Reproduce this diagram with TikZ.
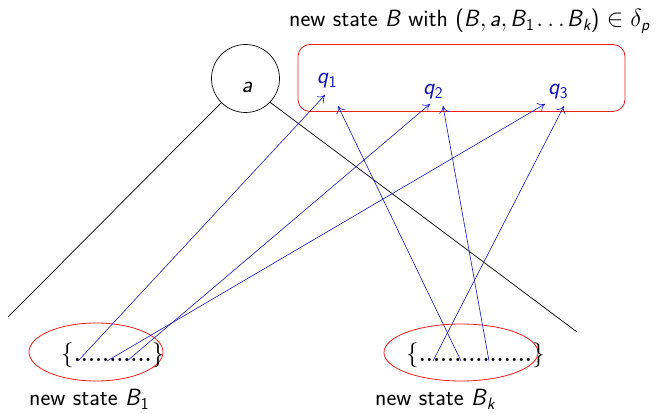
\documentclass[tikz,border=0pt]{standalone}
\usepackage{amsmath}
\usetikzlibrary{arrows.meta,shapes.geometric}
\definecolor{qblue}{RGB}{20,20,190}
\definecolor{boxred}{RGB}{240,30,30}
\newcommand{\sv}[1]{\textsf{\itshape #1}}
\newcommand{\dd}{{\fontsize{21}{24}\selectfont\textbf{.}}\kern0.5pt}
\newcommand{\dl}{{\fontsize{21}{24}\selectfont\textbf{.}}}
\begin{document}
\begin{tikzpicture}[x=1pt,y=-1pt,
  font=\fontsize{23.5}{28}\selectfont\sffamily,
  plain/.style={inner sep=0pt},
  qlab/.style={plain,text=qblue,anchor=base},
  blk/.style={draw=black,line width=0.7pt},
  redline/.style={draw=boxred,line width=0.8pt},
  barrow/.style={draw=qblue,line width=0.6pt,-{To[length=7pt,width=10pt]}}]
\useasboundingbox (0,0) rectangle (670,414);
% title
\node[plain,anchor=base west] (title) at (289,27)
  {new state \sv{B} with (\sv{B}$,$\kern3pt\sv{a}$,$\kern3pt\sv{B}$_{\textsf{1}}$\kern2pt$\ldots$\kern2pt\sv{B}$_{\sv{k}}$) $\in\delta_{\sv{p}}$};
% circle a
\node[circle,draw,line width=0.7pt,minimum size=68pt,plain] (circ) at (245.5,78.5) {};
\node[plain,anchor=base] (alab) at (247,93) {\sv{a}};
\coordinate (lend) at (8,317);
\coordinate (rend) at (577,332);
\draw[blk] (circ.-135) -- (lend);
\draw[blk] (circ.-44) -- (rend);
% red rounded box
\node[redline,draw,rounded corners=12pt,minimum width=327pt,minimum height=67pt,plain] (box) at (461.5,78) {};
\node[qlab] (q1) at (327,84) {\sv{q}$_{\textsf{1}}$};
\node[qlab] (q2) at (433,95) {\sv{q}$_{\textsf{2}}$};
\node[qlab] (q3) at (558,95) {\sv{q}$_{\textsf{3}}$};
% ellipses
\node[ellipse,redline,draw,minimum width=134pt,minimum height=58pt,plain] (e1) at (96,352) {};
\node[ellipse,redline,draw,minimum width=154pt,minimum height=57pt,plain] (ek) at (461,352.5) {};
\node[plain,anchor=base west] (set1) at (61,362) {\rmfamily$\{$\kern0.5pt\dd\dd\dd\dd\dd\dd\dd\dd\dd\dd\dl\kern0.5pt$\}$};
\node[plain,anchor=base west] (setk) at (406,362) {\rmfamily$\{$\kern0.5pt\dd\dd\dd\dd\dd\dd\dd\dd\dd\dd\dd\dd\dd\dd\dd\dl\kern0.5pt$\}$};
\node[plain,anchor=base west] (lb1) at (29,406) {new state \sv{B}$_{\textsf{1}}$};
\node[plain,anchor=base west] (lbk) at (375,406) {new state \sv{B}$_{\sv{k}}$};
% arrow start and tip points
\coordinate (s1) at (78,361);
\coordinate (s2) at (107,361);
\coordinate (s3) at (127,361);
\coordinate (s4) at (433,361);
\coordinate (s5) at (461,361);
\coordinate (s6) at (489,361);
\coordinate (t1a) at (325,95);
\coordinate (t1b) at (338,106);
\coordinate (t2a) at (430,104);
\coordinate (t2b) at (443,106);
\coordinate (t3a) at (545,104);
\coordinate (t3b) at (564,106);
\draw[barrow] (s1) -- (t1a);
\draw[barrow] (s2) -- (t3a);
\draw[barrow] (s3) -- (t2a);
\draw[barrow] (s4) -- (t3b);
\draw[barrow] (s5) -- (t1b);
\draw[barrow] (s6) -- (t2b);
\end{tikzpicture}
\end{document}
